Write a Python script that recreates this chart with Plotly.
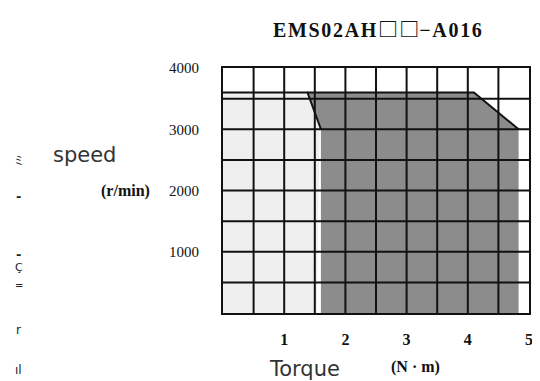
import plotly.graph_objects as go

# torque (N·m) / speed (r/min) outline of the two operating zones
cont_torque = [0, 0, 1.38, 1.58, 1.53, 0]
cont_speed = [0, 3600, 3600, 3000, 0, 0]
inter_torque = [1.6, 1.6, 1.38, 4.1, 4.83, 4.83, 1.6]
inter_speed = [0, 3000, 3600, 3600, 3000, 0, 0]
edge_torque = [0, 1.38, 1.6, None, 1.38, 4.1, 4.83]
edge_speed = [3600, 3600, 3000, None, 3600, 3600, 3000]

x_ticks = [1, 2, 3, 4, 5]
y_ticks = [1000, 2000, 3000, 4000]
grid_torque = [0.5, 1, 1.5, 2, 2.5, 3, 3.5, 4, 4.5]
grid_speed = [500, 1000, 1500, 2000, 2500, 3000, 3500]

X_MAX, Y_MAX = 5, 4000

fig = go.Figure()

# continuous zone (light)
fig.add_trace(go.Scatter(x=cont_torque, y=cont_speed, fill='toself', fillcolor='#efefef',
                         line=dict(width=0), mode='lines', hoverinfo='skip'))
# intermittent zone (dark)
fig.add_trace(go.Scatter(x=inter_torque, y=inter_speed, fill='toself', fillcolor='#8c8c8c',
                         line=dict(width=0), mode='lines', hoverinfo='skip'))

# grid drawn over the fills
gx, gy = [], []
for t in grid_torque:
    gx += [t, t, None]
    gy += [0, Y_MAX, None]
for s in grid_speed:
    gx += [0, X_MAX, None]
    gy += [s, s, None]
fig.add_trace(go.Scatter(x=gx, y=gy, mode='lines', line=dict(color='#111', width=2),
                         hoverinfo='skip'))
fig.add_trace(go.Scatter(x=edge_torque, y=edge_speed, mode='lines',
                         line=dict(color='#111', width=2), hoverinfo='skip'))

# the page body adds an 8px offset, so the figure is 8px smaller than the window
fig.update_layout(
    width=532, height=373,
    margin=dict(l=215, r=7, t=60, b=68),
    paper_bgcolor='white', plot_bgcolor='white',
    showlegend=False,
    font=dict(family='Liberation Serif', color='#111'),
    xaxis=dict(range=[0, X_MAX], showgrid=False,
               tickvals=x_ticks, ticktext=['<b>%d</b>' % v for v in x_ticks],
               tickfont=dict(size=16, family='Liberation Serif'), ticks='', ticklabelstandoff=11,
               showline=True, linecolor='#111', linewidth=2, mirror=True, zeroline=False),
    yaxis=dict(range=[0, Y_MAX], showgrid=False,
               tickvals=y_ticks, ticktext=[str(v) for v in y_ticks],
               tickfont=dict(size=15, family='Liberation Serif'), ticks='', ticklabelstandoff=19,
               showline=True, linecolor='#111', linewidth=2, mirror=True, zeroline=False),
)


def px(x):
    return (x - 223) / 310


def py(y):
    return (313 - y) / 245


sp = '\u200a'
title = ('<b>' + sp.join('EMS02AH') + '</b>' + sp
         + '<span style="font-family:Noto Sans CJK JP"><b>□' + sp + '□</b></span>'
         + '<b>' + sp.join('−A016') + '</b>')
fig.add_annotation(text=title, xref='paper', yref='paper', x=px(380), y=py(28), xanchor='center',
                   yanchor='middle', showarrow=False,
                   font=dict(family='Liberation Serif', size=20, color='#111'))
fig.add_annotation(text='speed', xref='paper', yref='paper', x=px(83), y=py(155), xanchor='center',
                   yanchor='middle', showarrow=False, font=dict(family='DejaVu Sans', size=21, color='#333'))
fig.add_annotation(text='<b>(r/min)</b>', xref='paper', yref='paper', x=px(151), y=py(191), xanchor='right',
                   yanchor='middle', showarrow=False, font=dict(family='Liberation Serif', size=16, color='#111'))
fig.add_annotation(text='Torque', xref='paper', yref='paper', x=px(306), y=py(369), xanchor='center',
                   yanchor='middle', showarrow=False, font=dict(family='DejaVu Sans', size=21, color='#333'))
fig.add_annotation(text='<b>(N · m)</b>', xref='paper', yref='paper', x=px(418), y=py(367), xanchor='center',
                   yanchor='middle', showarrow=False, font=dict(family='Liberation Serif', size=16, color='#111'))

# cut-off text fragments on the left edge
for txt, yy, sz in [('ミ', 160, 12), ('<b>-</b>', 196, 13), ('<b>-</b>', 254, 13), ('Ç', 267, 11),
                    ('=', 285, 10), ('r', 330, 12), ('ıl', 370, 12)]:
    fig.add_annotation(text=txt, xref='paper', yref='paper', x=px(16), y=py(yy),
                       xanchor='center', yanchor='middle', showarrow=False,
                       font=dict(family='DejaVu Sans', size=sz, color='#222'))

fig.write_html("out.html")
